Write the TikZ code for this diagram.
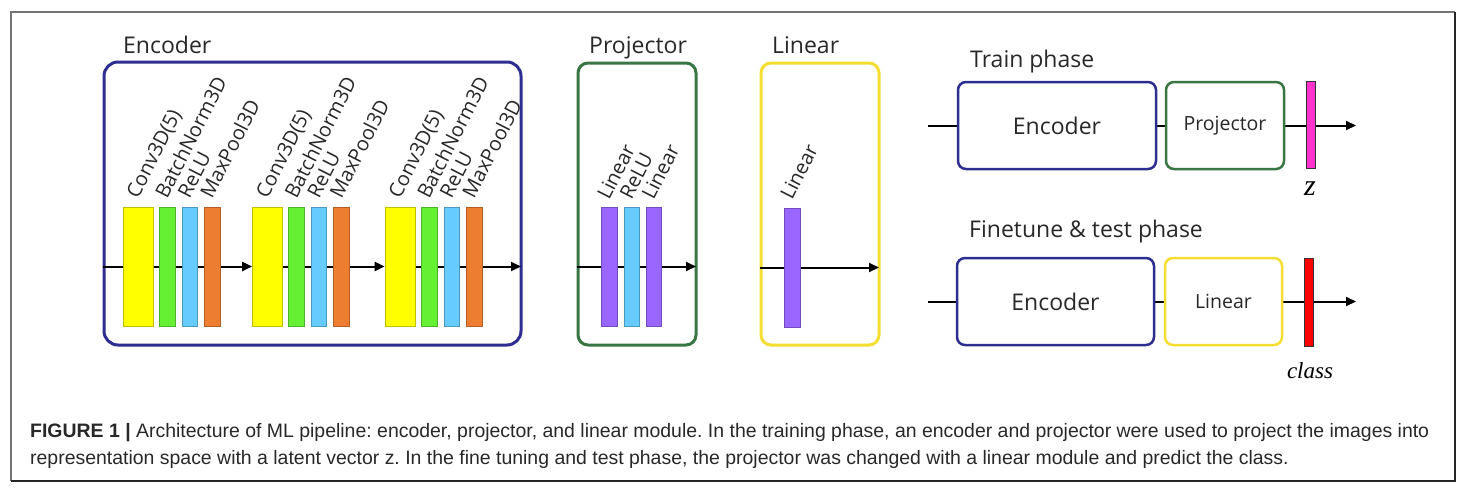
\documentclass[tikz,border=0pt]{standalone}
\usepackage{fontspec}
\setmainfont{Liberation Sans}
\newfontfamily\diag{Open Sans}
\newfontfamily\serifit{Liberation Serif}
\usetikzlibrary{arrows.meta}
\pgfdeclarelayer{boxlayer}
\pgfdeclarelayer{lineslayer}
\pgfsetlayers{boxlayer,lineslayer,main}
\definecolor{encblue}{RGB}{46,46,145}
\definecolor{projgreen}{RGB}{58,118,68}
\definecolor{lingold}{RGB}{245,222,50}
\definecolor{cyel}{RGB}{255,255,0}
\definecolor{cgrn}{RGB}{102,240,51}
\definecolor{cblu}{RGB}{102,204,255}
\definecolor{corg}{RGB}{237,125,49}
\definecolor{cpur}{RGB}{153,102,255}
\definecolor{cmag}{RGB}{255,51,204}
\definecolor{cred}{RGB}{255,0,0}
\definecolor{txt}{RGB}{40,40,40}
\tikzset{
  x=1pt, y=-1pt,
  bigbox/.style={draw, line width=3pt, rounded corners=14pt, inner sep=0pt},
  smallbox/.style={draw, line width=2.5pt, rounded corners=8pt, inner sep=0pt, minimum height=87pt, text=txt},
  blk/.style={draw=#1!75!black, fill=#1, line width=0.7pt, inner sep=0pt, minimum height=119pt},
  lbl/.style={anchor=base west, rotate=63, inner sep=0pt, font=\diag\fontsize{20}{20}\selectfont, text=txt},
  ttl/.style={anchor=base west, inner sep=0pt, font=\diag\fontsize{23}{23}\selectfont, text=txt},
  arr/.style={line width=2pt, -{Triangle[length=10pt,width=9pt]}},
  ln/.style={line width=2pt},
  bar/.style={draw=black!80, fill=#1, line width=1pt, inner sep=0pt, minimum width=9pt},
}
\frenchspacing
\begin{document}
\begin{tikzpicture}
\useasboundingbox (0,0) rectangle (1473,493);
\begin{pgfonlayer}{boxlayer}
\fill[white] (0,0) rectangle (1473,493);
\end{pgfonlayer}
% outer frame
\draw[line width=1.5pt, black!55] (11,481) -- (11,12) -- (1455,12);
\draw[line width=1.5pt, black!85] (1455,12) -- (1455,481) -- (11,481);

% ---------- Encoder ----------
\begin{pgfonlayer}{boxlayer}
\node[bigbox, draw=encblue, minimum width=417pt, minimum height=283pt] (enc) at (312.5,203.5) {};
\node[bigbox, draw=projgreen, rounded corners=10pt, minimum width=118pt, minimum height=282pt] (proj) at (637,204) {};
\node[bigbox, draw=lingold, rounded corners=10pt, minimum width=118pt, minimum height=282pt] (lin) at (820,204) {};
\end{pgfonlayer}
\node[ttl] (enct) at (123,53) {Encoder};
\node[ttl] (projt) at (589,53) {Projector};
\node[ttl] (lint) at (772,53) {Linear};

\foreach \g/\n in {123/1,252.5/2,385/3}{
  \node[blk=cyel, minimum width=30pt] (y\n) at (\g+15,266.5) {};
  \node[blk=cgrn, minimum width=16pt] (g\n) at (\g+44,266.5) {};
  \node[blk=cblu, minimum width=15pt] (b\n) at (\g+66.5,266.5) {};
  \node[blk=corg, minimum width=16pt] (o\n) at (\g+89,266.5) {};
  \node[lbl] (ly\n) at (\g+15,200) {Conv3D(5)};
  \node[lbl] (lg\n) at (\g+44,200) {BatchNorm3D};
  \node[lbl] (lb\n) at (\g+66.5,200) {ReLU};
  \node[lbl] (lo\n) at (\g+89,200) {MaxPool3D};
}
\begin{pgfonlayer}{lineslayer}
\draw[arr] (enc.west |- y1.center) -- (y2.west);
\draw[arr] (y2.center) -- (y3.west);
\draw[arr, shorten >=1.5pt] (y3.center) -- (enc.east |- y3.center);
\end{pgfonlayer}

% ---------- Projector ----------
\node[blk=cpur, minimum width=16pt] (p1) at (609,266.5) {};
\node[blk=cblu, minimum width=15pt] (p2) at (631.5,266.5) {};
\node[blk=cpur, minimum width=15pt] (p3) at (653.5,266.5) {};
\node[lbl] (lp1) at (609,201) {Linear};
\node[lbl] (lp2) at (631.5,201) {ReLU};
\node[lbl] (lp3) at (653.5,201) {Linear};
\begin{pgfonlayer}{lineslayer}
\draw[arr, shorten >=1.5pt] (proj.west |- p1.center) -- (proj.east |- p1.center);
\end{pgfonlayer}

% ---------- Linear ----------
\node[blk=cpur, minimum width=16pt] (l1) at (792,267.5) {};
\node[lbl] (ll1) at (792,201) {Linear};
\begin{pgfonlayer}{lineslayer}
\draw[arr, shorten >=1.5pt] (lin.west |- l1.center) -- (lin.east |- l1.center);
\end{pgfonlayer}

% ---------- Train phase ----------
\node[ttl] (trt) at (970,67) {Train phase};
\node[smallbox, draw=encblue, minimum width=198pt, font=\diag\fontsize{23}{23}\selectfont] (e1) at (1057,125.5) {Encoder};
\node[smallbox, draw=projgreen, minimum width=118pt, font=\diag\fontsize{19.5}{19.5}\selectfont] (pr1) at (1225,125.5) {Projector};
\node[bar=cmag, minimum height=87pt] (zb) at (1310.5,124.5) {};
\node[font=\serifit\itshape\fontsize{30}{30}\selectfont, inner sep=0pt] (zl) at (1310,189) {z};
\coordinate (in1) at (928,125.5);
\coordinate (out1) at (1356,125.5);
\begin{pgfonlayer}{lineslayer}
\draw[ln] (in1) -- (e1.west);
\draw[ln] (e1.east) -- (pr1.west);
\draw[arr] (pr1.east) -- (out1);
\end{pgfonlayer}

% ---------- Finetune & test phase ----------
\node[ttl] (ftt) at (969,237) {Finetune \& test phase};
\node[smallbox, draw=encblue, minimum width=197pt, font=\diag\fontsize{23}{23}\selectfont] (e2) at (1055.5,301.5) {Encoder};
\node[smallbox, draw=lingold, minimum width=117pt, font=\diag\fontsize{19.5}{19.5}\selectfont] (li2) at (1223.5,301.5) {Linear};
\node[bar=cred, minimum height=88pt] (cb) at (1308.5,302) {};
\node[font=\serifit\itshape\fontsize{23}{23}\selectfont, inner sep=0pt, anchor=base] (cl) at (1310,378) {class};
\coordinate (in2) at (928,301.5);
\coordinate (out2) at (1356,301.5);
\begin{pgfonlayer}{lineslayer}
\draw[ln] (in2) -- (e2.west);
\draw[ln] (e2.east) -- (li2.west);
\draw[arr] (li2.east) -- (out2);
\end{pgfonlayer}

% ---------- Caption ----------
\node[anchor=base west, inner sep=0pt, text=txt, font=\fontsize{19.45}{19.45}\selectfont] (cap1) at (30,437)
 {\textbf{FIGURE 1 |} Architecture of ML pipeline: encoder, projector, and linear module. In the training phase, an encoder and projector were used to project the images into};
\node[anchor=base west, inner sep=0pt, text=txt, font=\fontsize{19.45}{19.45}\selectfont] (cap2) at (30,464)
 {representation space with a latent vector z. In the fine tuning and test phase, the projector was changed with a linear module and predict the class.};
\end{tikzpicture}
\end{document}
